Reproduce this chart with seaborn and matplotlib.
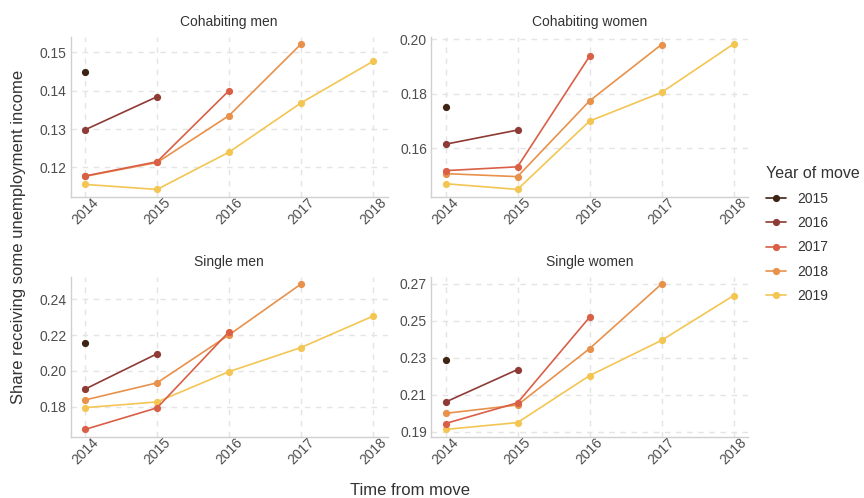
import numpy as np
import pandas as pd
import matplotlib
matplotlib.use("Agg")
import matplotlib.pyplot as plt
from matplotlib.lines import Line2D
import seaborn as sns

# Calendar years on the x axis
years = [2014, 2015, 2016, 2017, 2018]
move_years = [2015, 2016, 2017, 2018, 2019]
panels = ["Cohabiting men", "Cohabiting women", "Single men", "Single women"]

# Share receiving unemployment income, per panel and year of move
# (each cohort is observed from 2014 up to the year before its move)
cohab_men = {
    2015: [0.1448],
    2016: [0.1298, 0.1384],
    2017: [0.1178, 0.1215, 0.1400],
    2018: [0.1177, 0.1213, 0.1335, 0.1521],
    2019: [0.1156, 0.1143, 0.1240, 0.1368, 0.1476],
}
cohab_women = {
    2015: [0.1750],
    2016: [0.1615, 0.1667],
    2017: [0.1518, 0.1532, 0.1938],
    2018: [0.1507, 0.1496, 0.1774, 0.1981],
    2019: [0.1470, 0.1449, 0.1700, 0.1805, 0.1983],
}
single_men = {
    2015: [0.2154],
    2016: [0.1898, 0.2096],
    2017: [0.1672, 0.1793, 0.2220],
    2018: [0.1837, 0.1933, 0.2202, 0.2487],
    2019: [0.1794, 0.1826, 0.1996, 0.2131, 0.2307],
}
single_women = {
    2015: [0.2289],
    2016: [0.2061, 0.2237],
    2017: [0.1945, 0.2057, 0.2520],
    2018: [0.2000, 0.2045, 0.2350, 0.2700],
    2019: [0.1913, 0.1950, 0.2204, 0.2395, 0.2637],
}
panel_values = [cohab_men, cohab_women, single_men, single_women]

# Y tick marks for each panel
panel_yticks = [
    [0.12, 0.13, 0.14, 0.15],
    [0.16, 0.18, 0.20],
    [0.18, 0.20, 0.22, 0.24],
    [0.19, 0.21, 0.23, 0.25, 0.27],
]

colors = ["#3e2415", "#8e3a35", "#d95f46", "#e8914b", "#f3c653"]
palette = dict(zip([str(y) for y in move_years], colors))

rows = []
for panel, vals in zip(panels, panel_values):
    for my, series in vals.items():
        for yr, v in zip(years, series):
            rows.append({"panel": panel, "move": str(my), "year": yr, "share": v})
df = pd.DataFrame(rows)

sns.set_theme(style="white")
plt.rcParams["font.family"] = ["Liberation Sans", "DejaVu Sans"]

fig, axes = plt.subplots(2, 2, figsize=(8.64, 4.98), dpi=100)
fig.subplots_adjust(left=0.0818, right=0.8657, top=0.9263, bottom=0.1231,
                    wspace=0.1377, hspace=0.5)

draw_order = ["2015", "2016", "2018", "2019", "2017"]
for ax, panel, yt in zip(axes.flat, panels, panel_yticks):
    sub = df[df["panel"] == panel]
    for mv in draw_order:
        d = sub[sub["move"] == mv]
        sns.lineplot(data=d, x="year", y="share", color=palette[mv],
                     marker="o", markersize=5.2, markeredgewidth=0,
                     linewidth=1.2, ax=ax, legend=False, zorder=3)
    ax.set_title(panel, fontsize=10, color="#333333", pad=8)
    ax.set_xlabel("")
    ax.set_ylabel("")
    ax.set_xticks(years)
    ax.set_xticklabels([str(y) for y in years], rotation=45,
                       ha="center", va="top")
    ax.set_yticks(yt)
    ax.set_yticklabels([f"{v:.2f}" for v in yt])
    ax.margins(x=0.05, y=0.05)
    ax.tick_params(axis="both", length=0, labelsize=10, labelcolor="#4d4d4d")
    ax.tick_params(axis="x", pad=-1)
    ax.tick_params(axis="y", pad=3)
    ax.grid(True, color="#e4e4e4", linestyle=(0, (4, 4)), linewidth=1.0, zorder=0)
    ax.set_axisbelow(True)
    for side in ["top", "right"]:
        ax.spines[side].set_visible(False)
    for side in ["left", "bottom"]:
        ax.spines[side].set_color("#d0d0d0")
        ax.spines[side].set_linewidth(1.0)

fig.text(0.021, 0.525, "Share receiving some unemployment income",
         rotation=90, ha="center", va="center", fontsize=12, color="#333333")
fig.text(0.474, 0.016, "Time from move", ha="center", va="center",
         fontsize=12, color="#333333")

handles = [Line2D([0], [0], color=c, marker="o", markersize=5.2,
                  markeredgewidth=0, linewidth=1.2) for c in colors]
leg = fig.legend(handles, [str(y) for y in move_years], title="Year of move",
                 loc="upper left", bbox_to_anchor=(0.877, 0.683),
                 frameon=False, fontsize=10, title_fontsize=11.5,
                 handlelength=1.45, handletextpad=0.8, labelspacing=0.75,
                 alignment="left", borderaxespad=0.2)
leg._legend_handle_box.sep = 10
for t in leg.get_texts():
    t.set_color("#333333")
leg.get_title().set_color("#333333")

fig.savefig("out.png", dpi=100)
